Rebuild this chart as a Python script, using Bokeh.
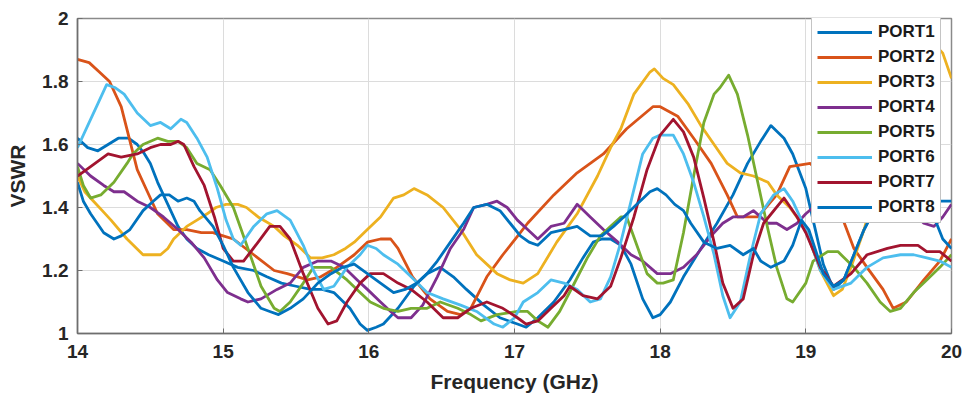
from bokeh.plotting import figure
from bokeh.models import FixedTicker, NumeralTickFormatter, Legend, Range1d
from bokeh.embed import file_html
from bokeh.resources import INLINE

# ---------------- data ----------------
x_ticks = [14, 15, 16, 17, 18, 19, 20]
y_ticks = [1.0, 1.2, 1.4, 1.6, 1.8, 2.0]

port1_f = [14.00, 14.07, 14.14, 14.21, 14.28, 14.35, 14.41, 14.46, 14.50, 14.55, 14.62, 14.69, 14.75, 14.82, 14.90,
           15.00, 15.10, 15.21, 15.30, 15.40, 15.50, 15.60, 15.68, 15.76, 15.87, 15.94, 15.99, 16.05, 16.10, 16.20,
           16.31, 16.40, 16.49, 16.58, 16.67, 16.79, 16.90, 17.02, 17.08, 17.16, 17.27, 17.38, 17.47, 17.54, 17.60,
           17.66, 17.73, 17.80, 17.88, 17.95, 18.00, 18.07, 18.16, 18.28, 18.39, 18.50, 18.60, 18.69, 18.76, 18.85,
           18.91, 19.00, 19.05, 19.12, 19.19, 19.26, 19.33, 19.40, 19.50, 19.65, 19.80, 19.90, 19.95, 20.00]
port1_v = [1.62, 1.59, 1.58, 1.60, 1.62, 1.62, 1.60, 1.57, 1.54, 1.48, 1.41, 1.34, 1.30, 1.27, 1.25,
           1.23, 1.21, 1.20, 1.18, 1.16, 1.15, 1.14, 1.14, 1.13, 1.08, 1.03, 1.01, 1.02, 1.03, 1.08,
           1.15, 1.19, 1.21, 1.18, 1.14, 1.09, 1.05, 1.03, 1.02, 1.05, 1.10, 1.17, 1.24, 1.29, 1.30,
           1.30, 1.28, 1.22, 1.11, 1.05, 1.06, 1.10, 1.18, 1.27, 1.35, 1.44, 1.54, 1.61, 1.66, 1.62,
           1.57, 1.46, 1.36, 1.22, 1.14, 1.17, 1.25, 1.33, 1.42, 1.47, 1.45, 1.42, 1.42, 1.42]

port2_f = [14.00, 14.08, 14.15, 14.22, 14.30, 14.41, 14.48, 14.55, 14.66, 14.75, 14.85, 14.93, 15.00, 15.07, 15.21,
           15.35, 15.44, 15.58, 15.67, 15.78, 15.90, 15.99, 16.08, 16.15, 16.20, 16.30, 16.42, 16.54, 16.63, 16.70,
           16.81, 16.92, 17.04, 17.09, 17.27, 17.43, 17.61, 17.77, 17.95, 18.00, 18.12, 18.23, 18.35, 18.46, 18.53,
           18.67, 18.80, 18.89, 19.03, 19.12, 19.24, 19.33, 19.42, 19.53, 19.60, 19.69, 19.81, 19.92, 20.00]
port2_v = [1.87, 1.86, 1.83, 1.80, 1.72, 1.52, 1.45, 1.38, 1.33, 1.33, 1.32, 1.32, 1.31, 1.30, 1.25,
           1.20, 1.19, 1.17, 1.18, 1.21, 1.25, 1.29, 1.30, 1.30, 1.27, 1.18, 1.11, 1.07, 1.06, 1.08,
           1.18, 1.25, 1.32, 1.35, 1.44, 1.51, 1.57, 1.65, 1.72, 1.72, 1.69, 1.62, 1.54, 1.44, 1.37,
           1.37, 1.44, 1.53, 1.54, 1.50, 1.38, 1.27, 1.21, 1.14, 1.08, 1.10, 1.17, 1.23, 1.30]

port3_f = [14.00, 14.05, 14.11, 14.17, 14.23, 14.34, 14.45, 14.52, 14.57, 14.62, 14.66, 14.75, 14.82, 14.89, 14.95,
           15.02, 15.10, 15.16, 15.24, 15.35, 15.42, 15.51, 15.60, 15.68, 15.76, 15.84, 15.90, 15.99, 16.08, 16.17,
           16.24, 16.31, 16.40, 16.51, 16.63, 16.74, 16.88, 16.97, 17.06, 17.16, 17.29, 17.43, 17.57, 17.66, 17.73,
           17.82, 17.93, 17.96, 18.02, 18.09, 18.19, 18.28, 18.37, 18.46, 18.55, 18.64, 18.74, 18.80, 18.89, 19.00,
           19.10, 19.19, 19.25, 19.31, 19.40, 19.50, 19.62, 19.75, 19.88, 19.94, 20.00]
port3_v = [1.50, 1.45, 1.42, 1.39, 1.36, 1.30, 1.25, 1.25, 1.25, 1.27, 1.30, 1.34, 1.36, 1.38, 1.40,
           1.41, 1.41, 1.40, 1.37, 1.34, 1.31, 1.28, 1.24, 1.24, 1.25, 1.27, 1.29, 1.33, 1.37, 1.43,
           1.44, 1.46, 1.44, 1.40, 1.33, 1.25, 1.19, 1.17, 1.16, 1.19, 1.29, 1.38, 1.50, 1.59, 1.65,
           1.76, 1.83, 1.84, 1.81, 1.79, 1.73, 1.66, 1.60, 1.54, 1.51, 1.50, 1.48, 1.44, 1.40, 1.33,
           1.20, 1.12, 1.14, 1.21, 1.33, 1.50, 1.68, 1.84, 1.92, 1.89, 1.81]

port4_f = [14.00, 14.09, 14.18, 14.25, 14.32, 14.41, 14.50, 14.59, 14.69, 14.78, 14.87, 14.96, 15.03, 15.12, 15.17,
           15.26, 15.37, 15.46, 15.55, 15.65, 15.74, 15.83, 15.92, 15.99, 16.08, 16.15, 16.20, 16.29, 16.37, 16.47,
           16.56, 16.65, 16.72, 16.81, 16.88, 16.95, 17.02, 17.09, 17.16, 17.25, 17.34, 17.43, 17.52, 17.61, 17.71,
           17.80, 17.88, 17.98, 18.07, 18.16, 18.25, 18.35, 18.43, 18.50, 18.57, 18.64, 18.74, 18.80, 18.87, 18.94,
           19.00, 19.10, 19.30, 19.50, 19.70, 19.81, 19.88, 19.94, 20.00]
port4_v = [1.54, 1.50, 1.47, 1.45, 1.45, 1.42, 1.40, 1.37, 1.33, 1.29, 1.24, 1.17, 1.13, 1.11, 1.10,
           1.11, 1.14, 1.16, 1.21, 1.23, 1.23, 1.21, 1.17, 1.14, 1.10, 1.07, 1.05, 1.05, 1.09, 1.18,
           1.27, 1.33, 1.40, 1.41, 1.42, 1.40, 1.36, 1.33, 1.30, 1.34, 1.35, 1.41, 1.37, 1.33, 1.29,
           1.25, 1.23, 1.19, 1.19, 1.21, 1.25, 1.31, 1.35, 1.37, 1.37, 1.39, 1.35, 1.35, 1.33, 1.35,
           1.38, 1.42, 1.45, 1.44, 1.40, 1.35, 1.34, 1.37, 1.41]

port5_f = [14.00, 14.04, 14.09, 14.16, 14.25, 14.34, 14.38, 14.45, 14.55, 14.62, 14.69, 14.75, 14.82, 14.91, 14.98,
           15.07, 15.17, 15.26, 15.35, 15.39, 15.46, 15.55, 15.62, 15.74, 15.85, 15.94, 16.01, 16.10, 16.20, 16.29,
           16.40, 16.49, 16.61, 16.70, 16.77, 16.88, 17.02, 17.09, 17.16, 17.23, 17.31, 17.40, 17.50, 17.59, 17.66,
           17.73, 17.77, 17.84, 17.91, 17.98, 18.02, 18.09, 18.16, 18.23, 18.30, 18.37, 18.41, 18.47, 18.53, 18.60,
           18.67, 18.74, 18.80, 18.87, 18.91, 19.00, 19.05, 19.15, 19.22, 19.33, 19.42, 19.51, 19.58, 19.65, 19.74,
           19.83, 19.92, 20.00]
port5_v = [1.53, 1.47, 1.43, 1.44, 1.48, 1.54, 1.57, 1.60, 1.62, 1.61, 1.61, 1.59, 1.54, 1.52, 1.47,
           1.40, 1.27, 1.15, 1.08, 1.07, 1.10, 1.16, 1.21, 1.21, 1.17, 1.13, 1.10, 1.08, 1.07, 1.08,
           1.08, 1.10, 1.08, 1.06, 1.04, 1.06, 1.07, 1.07, 1.04, 1.02, 1.07, 1.15, 1.24, 1.31, 1.34,
           1.37, 1.37, 1.28, 1.19, 1.16, 1.16, 1.17, 1.32, 1.50, 1.67, 1.76, 1.78, 1.82, 1.76, 1.63,
           1.48, 1.33, 1.21, 1.11, 1.10, 1.16, 1.23, 1.26, 1.26, 1.21, 1.16, 1.10, 1.07, 1.08, 1.13,
           1.17, 1.21, 1.25]

port6_f = [14.00, 14.07, 14.14, 14.20, 14.26, 14.32, 14.41, 14.50, 14.57, 14.64, 14.71, 14.75, 14.82, 14.89, 14.96,
           15.02, 15.07, 15.12, 15.21, 15.30, 15.37, 15.46, 15.55, 15.62, 15.69, 15.76, 15.85, 15.94, 15.99, 16.05,
           16.10, 16.20, 16.29, 16.40, 16.51, 16.63, 16.74, 16.86, 16.92, 17.00, 17.06, 17.16, 17.25, 17.34, 17.43,
           17.52, 17.59, 17.66, 17.73, 17.80, 17.88, 17.95, 18.00, 18.09, 18.16, 18.23, 18.30, 18.37, 18.43, 18.48,
           18.55, 18.62, 18.69, 18.78, 18.85, 18.91, 19.00, 19.10, 19.19, 19.31, 19.42, 19.53, 19.65, 19.74, 19.83,
           19.92, 20.00]
port6_v = [1.59, 1.66, 1.73, 1.79, 1.78, 1.76, 1.70, 1.66, 1.67, 1.65, 1.68, 1.67, 1.62, 1.56, 1.46,
           1.36, 1.30, 1.28, 1.34, 1.38, 1.39, 1.36, 1.28, 1.20, 1.14, 1.15, 1.21, 1.25, 1.28, 1.27,
           1.25, 1.22, 1.18, 1.13, 1.11, 1.09, 1.07, 1.03, 1.02, 1.05, 1.10, 1.13, 1.17, 1.16, 1.14,
           1.10, 1.11, 1.18, 1.29, 1.42, 1.57, 1.62, 1.63, 1.63, 1.57, 1.48, 1.37, 1.25, 1.12, 1.05,
           1.10, 1.25, 1.38, 1.44, 1.46, 1.42, 1.33, 1.20, 1.14, 1.16, 1.21, 1.24, 1.25, 1.25, 1.24,
           1.23, 1.21]

port7_f = [14.00, 14.09, 14.21, 14.30, 14.41, 14.50, 14.57, 14.64, 14.69, 14.73, 14.80, 14.87, 14.94, 15.00, 15.07,
           15.14, 15.24, 15.32, 15.39, 15.46, 15.55, 15.65, 15.72, 15.78, 15.85, 15.94, 16.01, 16.10, 16.20, 16.29,
           16.40, 16.51, 16.61, 16.70, 16.81, 16.92, 17.02, 17.08, 17.16, 17.25, 17.34, 17.38, 17.47, 17.57, 17.66,
           17.73, 17.82, 17.91, 18.00, 18.09, 18.16, 18.23, 18.30, 18.37, 18.43, 18.50, 18.57, 18.64, 18.71, 18.85,
           18.94, 19.00, 19.10, 19.19, 19.31, 19.42, 19.56, 19.65, 19.77, 19.83, 19.92, 20.00]
port7_v = [1.50, 1.53, 1.57, 1.56, 1.57, 1.59, 1.60, 1.60, 1.61, 1.60, 1.53, 1.47, 1.37, 1.27, 1.23,
           1.23, 1.29, 1.34, 1.34, 1.30, 1.19, 1.08, 1.03, 1.04, 1.10, 1.16, 1.19, 1.19, 1.16, 1.14,
           1.10, 1.05, 1.05, 1.08, 1.10, 1.08, 1.05, 1.03, 1.04, 1.08, 1.12, 1.15, 1.12, 1.11, 1.15,
           1.24, 1.37, 1.52, 1.63, 1.68, 1.64, 1.56, 1.43, 1.29, 1.16, 1.08, 1.11, 1.25, 1.35, 1.43,
           1.37, 1.32, 1.21, 1.15, 1.19, 1.25, 1.27, 1.28, 1.28, 1.26, 1.26, 1.23]

port8_f = [14.00, 14.04, 14.09, 14.18, 14.25, 14.30, 14.36, 14.45, 14.52, 14.57, 14.63, 14.69, 14.75, 14.80, 14.84,
           14.93, 15.00, 15.07, 15.17, 15.26, 15.32, 15.38, 15.46, 15.55, 15.65, 15.74, 15.82, 15.90, 15.99, 16.08,
           16.17, 16.25, 16.33, 16.40, 16.47, 16.56, 16.65, 16.72, 16.81, 16.90, 16.97, 17.04, 17.10, 17.16, 17.25,
           17.34, 17.43, 17.52, 17.60, 17.68, 17.75, 17.84, 17.93, 17.98, 18.04, 18.10, 18.16, 18.21, 18.30, 18.39,
           18.48, 18.57, 18.64, 18.69, 18.76, 18.85, 18.91, 18.97, 19.02, 19.12, 19.19, 19.26, 19.33, 19.40, 19.50,
           19.65, 19.80, 19.88, 19.94, 20.00]
port8_v = [1.48, 1.42, 1.38, 1.32, 1.30, 1.31, 1.33, 1.39, 1.42, 1.44, 1.44, 1.42, 1.43, 1.42, 1.39,
           1.34, 1.28, 1.21, 1.13, 1.08, 1.07, 1.06, 1.08, 1.11, 1.16, 1.19, 1.21, 1.22, 1.19, 1.16,
           1.13, 1.14, 1.16, 1.19, 1.23, 1.29, 1.35, 1.40, 1.41, 1.39, 1.35, 1.31, 1.29, 1.28, 1.32,
           1.33, 1.34, 1.31, 1.31, 1.34, 1.37, 1.41, 1.45, 1.46, 1.44, 1.41, 1.39, 1.35, 1.29, 1.27,
           1.28, 1.25, 1.27, 1.23, 1.21, 1.23, 1.28, 1.36, 1.33, 1.19, 1.15, 1.17, 1.25, 1.33, 1.42,
           1.46, 1.42, 1.37, 1.30, 1.27]

series = [
    ("PORT1", port1_f, port1_v, "#0072BD"),
    ("PORT2", port2_f, port2_v, "#D95319"),
    ("PORT3", port3_f, port3_v, "#EDB120"),
    ("PORT4", port4_f, port4_v, "#7E2F8E"),
    ("PORT5", port5_f, port5_v, "#77AC30"),
    ("PORT6", port6_f, port6_v, "#4DBEEE"),
    ("PORT7", port7_f, port7_v, "#A2142F"),
    ("PORT8", port8_f, port8_v, "#0072BD"),
]

FONT = "Liberation Sans"

p = figure(width=973, height=399, output_backend="svg", toolbar_location=None,
           x_range=Range1d(14, 20), y_range=Range1d(1, 2),
           min_border_left=77, min_border_right=22, min_border_top=18, min_border_bottom=66)
p.background_fill_color = "white"
p.border_fill_color = "white"
p.outline_line_color = "#8a8a8a"
p.outline_line_width = 1.5

items = []
for name, f, v, c in series:
    r = p.line(f, v, line_color=c, line_width=2.8, line_join="round")
    items.append((name, [r]))

for ax in (p.xaxis[0], p.yaxis[0]):
    ax.axis_line_color = "#6e6e6e"
    ax.axis_line_width = 1.5
    ax.major_tick_line_color = "#6e6e6e"
    ax.major_tick_in = 5
    ax.major_tick_out = 0
    ax.minor_tick_line_color = None
    ax.major_label_text_font = FONT
    ax.major_label_text_font_style = "bold"
    ax.major_label_text_color = "#262626"
    ax.axis_label_text_font = FONT
    ax.axis_label_text_font_style = "bold"
    ax.axis_label_text_color = "#262626"

p.xaxis[0].ticker = FixedTicker(ticks=x_ticks)
p.yaxis[0].ticker = FixedTicker(ticks=y_ticks)
p.yaxis[0].formatter = NumeralTickFormatter(format="0.[0]")
p.xaxis[0].major_label_text_font_size = "19px"
p.yaxis[0].major_label_text_font_size = "19px"
p.xaxis[0].major_label_standoff = 11
p.yaxis[0].major_label_standoff = 9
p.xaxis[0].axis_label = "Frequency (GHz)"
p.yaxis[0].axis_label = "VSWR"
p.xaxis[0].axis_label_text_font_size = "21px"
p.yaxis[0].axis_label_text_font_size = "21px"
p.xaxis[0].axis_label_standoff = 9
p.yaxis[0].axis_label_standoff = 10

p.xgrid.ticker = FixedTicker(ticks=x_ticks)
p.ygrid.ticker = FixedTicker(ticks=y_ticks)
p.xgrid.grid_line_color = "#dcdcdc"
p.ygrid.grid_line_color = "#dcdcdc"
p.xgrid.grid_line_width = 1
p.ygrid.grid_line_width = 1

legend = Legend(items=items, location=(734, 110), orientation="vertical")
legend.label_text_font = FONT
legend.label_text_font_style = "bold"
legend.label_text_font_size = "17px"
legend.label_text_color = "#1a1a1a"
legend.glyph_width = 55
legend.glyph_height = 20
legend.label_height = 20
legend.label_standoff = 6
legend.spacing = 5
legend.padding = 5
legend.margin = 0
legend.border_line_color = "#8a8a8a"
legend.border_line_width = 1.2
legend.background_fill_color = "white"
legend.background_fill_alpha = 1.0
p.add_layout(legend, "center")

open("out.html", "w").write(file_html(p, INLINE))
